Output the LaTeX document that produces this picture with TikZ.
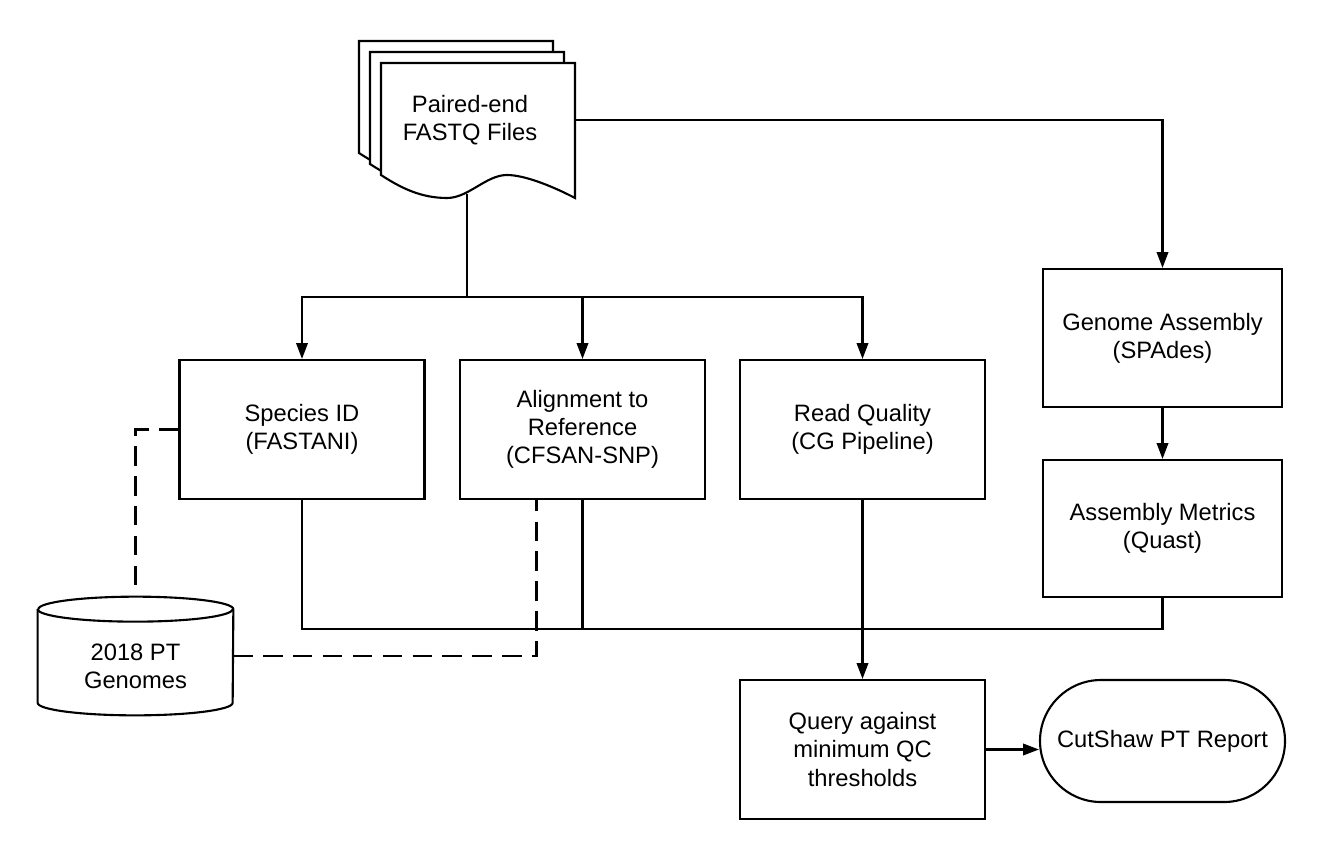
\documentclass[tikz,border=0pt]{standalone}
\usepackage{fontspec}
\setmainfont{Liberation Sans}
\usetikzlibrary{arrows.meta,calc,positioning}
\tikzstyle{stepbox} = [rectangle, draw, line width=1.2pt, minimum width=4.9cm, minimum height=2.78cm, align=center]
\tikzstyle{sidebox} = [stepbox, minimum width=4.78cm, minimum height=2.76cm]
\tikzstyle{endbox} = [stepbox, rounded corners=1.22cm, minimum height=2.44cm]
\tikzstyle{link} = [line width=1.2pt]
\tikzstyle{arrow} = [line width=1.2pt,-{Triangle[length=9pt,width=6.5pt]}]
\tikzstyle{dblink} = [line width=1.2pt, dash pattern=on 11pt off 6pt]

\begin{document}
\begin{tikzpicture}[every node/.style={font=\fontsize{13.5}{16}\selectfont}]
\useasboundingbox (0,0) rectangle (26.5,-17.2);
% stack of fastq files
\foreach \s in {0.44,0.22,0}{
\draw[link, fill=white, shift={(7.62-\s,-1.26+\s)}] (0,0) -- (3.88,0) -- (3.88,-2.7)
  .. controls (3.5,-2.5) and (2.9,-2.24) .. (2.52,-2.24)
  .. controls (2.1,-2.24) and (1.75,-2.7) .. (1.32,-2.7)
  .. controls (0.8,-2.7) and (0.4,-2.5) .. (0,-2.24) -- cycle;
}
\node (fastq) at (9.4,-2.4) [minimum width=4.2cm, align=center] {Paired-end\\FASTQ Files};
\coordinate (fqfoot) at (9.34,-3.88);
\coordinate (split) at (9.34,-5.94);
%\coordinate (x) at (9.34,-5);

\node (species) at (6.04,-8.59) [stepbox] {Species ID\\(FASTANI)};
\node (align) at (11.65,-8.59) [stepbox] {Alignment to\\Reference\\(CFSAN-SNP)};
\node (readq) at (17.25,-8.59) [stepbox] {Read Quality\\(CG Pipeline)};
\node (genome) at (23.25,-6.76) [sidebox] {Genome Assembly\\(SPAdes)};
\node (metrics) at (23.25,-10.57) [sidebox, minimum height=2.74cm] {Assembly Metrics\\(Quast)};
\node (query) at (17.25,-14.99) [stepbox] {Query against\\minimum QC\\thresholds};
\node (report) at (23.25,-14.82) [endbox] {CutShaw PT Report};

% database of genomes
\node (genomes) at (2.71,-13.12) [minimum width=3.9cm, minimum height=2.36cm,
  label={[align=center, yshift=-0.2cm]center:2018 PT\\Genomes}] {};
\draw[link] ($(genomes.north west)+(0,-0.25)$) -- ($(genomes.south west)+(0,0.25)$)
  arc[start angle=180, end angle=360, x radius=1.95cm, y radius=0.25cm]
  -- ($(genomes.north east)+(0,-0.25)$)
  arc[start angle=0, end angle=180, x radius=1.95cm, y radius=0.25cm];
\draw[link] ($(genomes.north west)+(0,-0.25)$)
  arc[start angle=180, end angle=360, x radius=1.95cm, y radius=0.25cm];

\draw[link] (fqfoot)--(split);
\draw[arrow] (split) -| (species.north);
\draw[arrow] (split) -| (align.north);
\draw[arrow] (split) -| (readq.north);
\draw[arrow] (fastq.east) -| (genome.north);
\draw[arrow] (genome)--(metrics);

\coordinate (merge) at (23.25,-12.58);
\draw[link] (species.south) |- (merge) -- (metrics.south);
\draw[link] (align.south) -- (align.south |- merge);
\draw[arrow] (readq)--(query);
\draw[arrow] (query.east) -- (query.east -| report.west);

\draw[dblink] (species.west) -| (genomes.north);
\draw[dblink] (genomes.east) -| ($(align.south)+(-0.92,0)$);
\end{tikzpicture}
\end{document}
